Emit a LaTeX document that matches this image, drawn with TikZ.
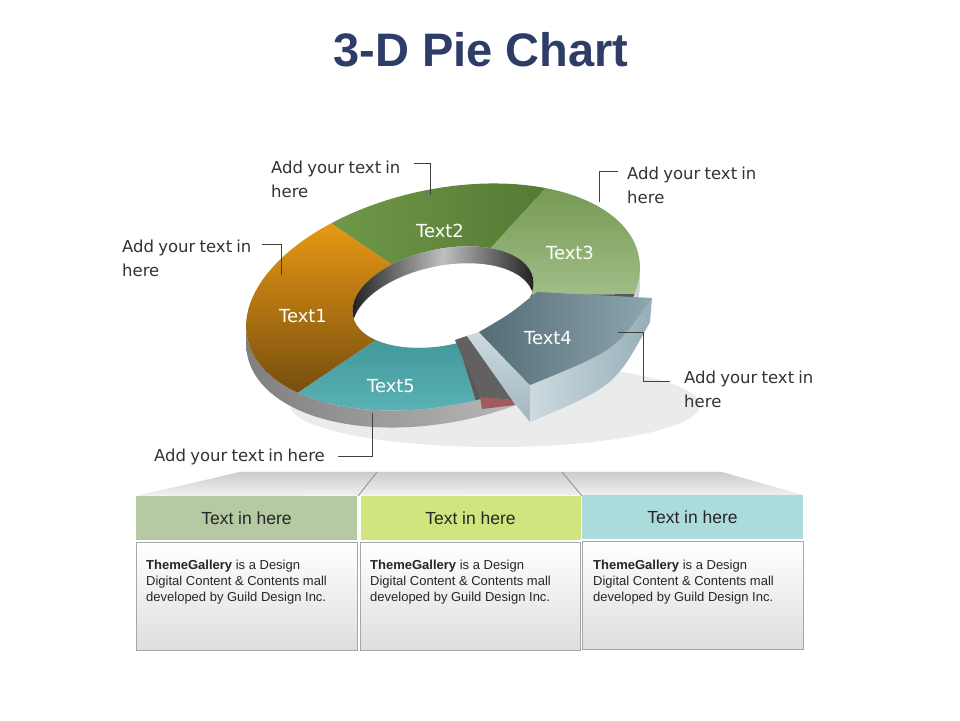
\documentclass[tikz,border=0pt]{standalone}
\usepackage{fontspec}
\setmainfont{DejaVu Sans}[WordSpace=0.8]
\newfontfamily\arialfont{Liberation Sans}
\usepackage{tikz}

\definecolor{titleblue}{RGB}{46,61,104}
\definecolor{hdone}{RGB}{181,201,163}
\definecolor{hdtwo}{RGB}{208,229,125}
\definecolor{hdthree}{RGB}{172,219,219}
\definecolor{gapred}{RGB}{160,92,92}

\newcommand{\ringpart}[2]{(#1:200 and 108) arc[start angle=#1, end angle=#2, x radius=200, y radius=108]
  -- (#2:92 and 48) arc[start angle=#2, end angle=#1, x radius=92, y radius=48] -- cycle}

\begin{document}
\begin{tikzpicture}[x=1pt, y=1pt,
    lbl/.style={font=\fontsize{16.5}{23.5}\selectfont, text=black!80, align=left, anchor=north west, inner sep=0pt},
    seg/.style={font=\fontsize{18}{22}\selectfont, text=white, inner sep=0pt},
    leader/.style={draw=black!75, line width=1pt},
    head/.style={minimum width=221, minimum height=44, inner sep=0pt, font=\arialfont\fontsize{17.5}{20}\selectfont, text=black!85},
    body/.style={draw=black!35, top color=white, bottom color=black!13, minimum width=221, minimum height=108, inner sep=0pt},
    note/.style={font=\arialfont\fontsize{13}{16}\selectfont, text=black!85, align=left, anchor=north west, inner sep=0pt}]

\useasboundingbox (0,0) rectangle (960,720);
\fill[white] (0,0) rectangle (960,720);

\node[font=\arialfont\bfseries\fontsize{47}{50}\selectfont, text=titleblue] (tt) at (481,670) {3-D Pie Chart};

\fill[black!8] (495,315) ellipse [x radius=205, y radius=42];

\begin{scope}[shift={(443,423)}, rotate=12]
\shade[left color=black!50, right color=black!18] (173.45:200 and 108)
    arc[start angle=173.45, end angle=353.45, x radius=200, y radius=108]
    -- ++(-3.54,-16.63)
    arc[start angle=353.45, end angle=173.45, x radius=200, y radius=108] -- cycle;

\shade[top color={rgb,255:red,232;green,152;blue,20}, bottom color={rgb,255:red,118;green,78;blue,14}] \ringpart{118}{216};
\shade[left color={rgb,255:red,112;green,152;blue,72}, right color={rgb,255:red,84;green,122;blue,52}] \ringpart{52}{118};
\shade[top color={rgb,255:red,118;green,154;blue,84}, bottom color={rgb,255:red,160;green,190;blue,136}] \ringpart{-20}{52};
\shade[top color={rgb,255:red,66;green,152;blue,154}, bottom color={rgb,255:red,92;green,180;blue,182}] \ringpart{216}{273};
\fill[black!65] \ringpart{273}{340};

\shade[left color=black!90, right color=black!90, middle color=black!25] (0,0) ellipse [x radius=92, y radius=48];
\begin{scope}
\clip (0,0) ellipse [x radius=92, y radius=48];
\fill[white] (-3.54,-16.63) ellipse [x radius=92, y radius=48];
\end{scope}
\end{scope}

\fill[gapred] (480,323) -- (512,320) -- (515,315) -- (482,311) -- cycle;
\fill[black!62] (455,380) -- (467,384) -- (512,320) -- (480,323) -- cycle;

\shade[top color={rgb,255:red,205;green,218;blue,224}, bottom color={rgb,255:red,160;green,182;blue,192}]
    (467,384) -- (479,388) -- (530,335) -- (530,298) -- (512,320) -- cycle;
\shade[left color={rgb,255:red,205;green,218;blue,224}, right color={rgb,255:red,150;green,174;blue,184}]
    (652,422) -- (650,398) .. controls (615,334) .. (530,298) -- (530,335) .. controls (616,370) .. (652,422) -- cycle;
\shade[left color={rgb,255:red,84;green,108;blue,118}, right color={rgb,255:red,142;green,166;blue,174}]
    (479,388) .. controls (510,406) .. (537,428) -- (652,422) .. controls (616,370) .. (530,335) -- cycle;

\node[seg] (11) at (303,404) {Text1};
\node[seg] (12) at (440,489) {Text2};
\node[seg] (13) at (570,467) {Text3};
\node[seg] (14) at (548,382) {Text4};
\node[seg] (15) at (391,334) {Text5};

\node[lbl] (21) at (122,480) {Add your text in\\here};
\node[lbl] (22) at (271,559) {Add your text in\\here};
\node[lbl] (23) at (627,553) {Add your text in\\here};
\node[lbl] (24) at (684,349) {Add your text in\\here};
\node[lbl] (25) at (154,271) {Add your text in here};

\coordinate (a1) at (262,475);
\coordinate (b1) at (281,445);
\coordinate (a2) at (414,556);
\coordinate (b2) at (430,525);
\coordinate (a3) at (618,548);
\coordinate (b3) at (599,518);
\coordinate (a4) at (618,387);
\coordinate (b4) at (670,338);
\coordinate (a5) at (338,263);
\coordinate (b5) at (372,307);

\draw[leader] (a1) -| (b1);
\draw[leader] (a2) -| (b2);
\draw[leader] (a3) -| (b3);
\draw[leader] (a4) -- ++(25,0) |- (b4);
\draw[leader] (a5) -| (b5);

\shade[top color=black!20, bottom color=black!5] (136,224) -- (240,248) -- (722,248) -- (803,225) -- cycle;
\draw[black!45, line width=0.8pt] (358,224) -- (377,248);
\draw[black!45, line width=0.8pt] (582,224) -- (562,248);

\node[head, fill=hdone] (31) at (246.5,202) {Text in here};
\node[head, fill=hdtwo, minimum width=220] (32) at (470.5,202) {Text in here};
\node[head, fill=hdthree] (33) at (692.5,202.5) {Text in here};

\node[body] (41) at (246.5,124) {};
\node[body, minimum width=220] (42) at (470.5,124) {};
\node[body] (43) at (692.5,125) {};

\node[note] (51) at (146,160.5) {\textbf{ThemeGallery} is a Design\\Digital Content \& Contents mall\\developed by Guild Design Inc.};
\node[note] (52) at (370,160.5) {\textbf{ThemeGallery} is a Design\\Digital Content \& Contents mall\\developed by Guild Design Inc.};
\node[note] (53) at (593,160.5) {\textbf{ThemeGallery} is a Design\\Digital Content \& Contents mall\\developed by Guild Design Inc.};

\end{tikzpicture}
\end{document}
